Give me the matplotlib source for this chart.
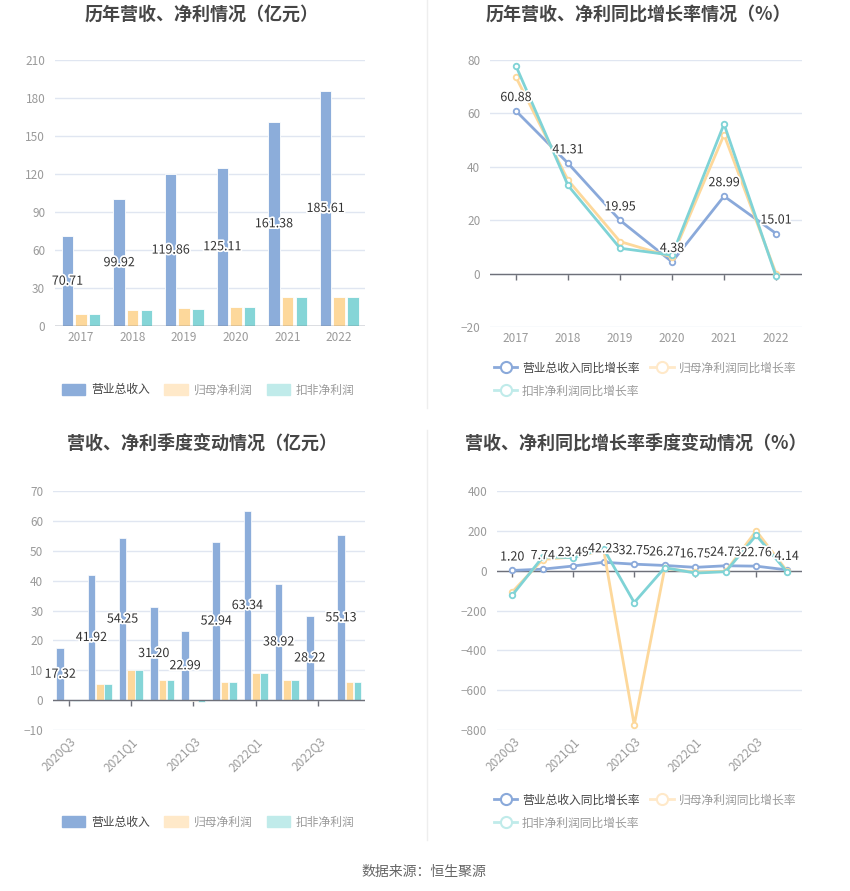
import numpy as np
import matplotlib
matplotlib.use('Agg')
import matplotlib.pyplot as plt
import matplotlib.patheffects as pe
from matplotlib.lines import Line2D
from matplotlib.patches import Patch

plt.rcParams['font.family'] = ['Noto Sans CJK SC', 'DejaVu Sans']

# Data
years = ['2017', '2018', '2019', '2020', '2021', '2022']
revenue = [70.71, 99.92, 119.86, 125.11, 161.38, 185.61]
net_profit = [9.2, 12.5, 14.1, 15.1, 23.0, 23.0]
deducted_profit = [9.4, 12.4, 13.8, 14.9, 23.0, 22.7]

revenue_yoy = [60.88, 41.31, 19.95, 4.38, 28.99, 15.01]
net_profit_yoy = [73.5, 35.0, 12.0, 6.2, 52.0, 0.0]
deducted_yoy = [77.7, 33.0, 9.5, 6.9, 56.0, -1.0]

quarters = ['2020Q3', '2020Q4', '2021Q1', '2021Q2', '2021Q3', '2021Q4',
            '2022Q1', '2022Q2', '2022Q3', '2022Q4']
q_revenue = [17.32, 41.92, 54.25, 31.20, 22.99, 52.94, 63.34, 38.92, 28.22, 55.13]
q_net_profit = [0.1, 5.4, 10.0, 6.8, -0.3, 6.2, 9.2, 6.6, 0.2, 6.1]
q_deducted = [-0.2, 5.4, 10.0, 6.8, -0.6, 6.2, 9.2, 6.6, 0.2, 6.0]

q_revenue_yoy = [1.20, 7.74, 23.49, 42.23, 32.75, 26.27, 16.75, 24.73, 22.76, 4.14]
q_net_profit_yoy = [-107, 56, 69, 102, -775, 12, -8, -3, 200, 0]
q_deducted_yoy = [-123, 69, 66, 109, -160, 15, -12, -5, 178, -5]

bar_names = ['营业总收入', '归母净利润', '扣非净利润']
line_names = ['营业总收入同比增长率', '归母净利润同比增长率', '扣非净利润同比增长率']

# Colours
blue = '#8cadda'
orange = '#fdd89b'
cyan = '#85d5d7'
orange_light = '#ffe9c9'
cyan_light = '#c0ebea'
grid_c = '#e0e6f1'
axis_c = '#6e7079'
tick_c = '#9a9a9a'

fig = plt.figure(figsize=(8.5, 8.91), dpi=100)

ax1 = fig.add_axes([0.0647, 0.6341, 0.3647, 0.2986])
ax2 = fig.add_axes([0.5765, 0.6330, 0.3671, 0.2997])
ax3 = fig.add_axes([0.0624, 0.1807, 0.3671, 0.2682])
ax4 = fig.add_axes([0.5847, 0.1807, 0.3588, 0.2682])


def style_axes(ax, ymin, ymax, step, ncat, tick_pos):
    ax.set_ylim(ymin, ymax)
    ax.set_xlim(-0.5, ncat - 0.5)
    ax.set_yticks(np.arange(ymin, ymax + step / 2, step))
    ax.grid(axis='y', color=grid_c, linewidth=1)
    ax.set_axisbelow(True)
    for s in ax.spines.values():
        s.set_visible(False)
    ax.tick_params(axis='y', length=0, pad=7, labelsize=8.5, labelcolor=tick_c)
    ax.tick_params(axis='x', length=0, labelsize=8.5, labelcolor=tick_c)
    # zero line with tick marks
    ax.axhline(0, color=axis_c, linewidth=1, zorder=1.5)
    z = (0 - ymin) / (ymax - ymin)
    sec = ax.secondary_xaxis(z)
    sec.set_alignment('bottom')
    for s in sec.spines.values():
        s.set_visible(False)
    sec.set_xticks(tick_pos)
    sec.tick_params(axis='x', length=4, width=1, color=axis_c,
                    labelbottom=False, labeltop=False, bottom=True, top=False)
    return sec


def label_text(ax, x, y, s, dy=0):
    ax.annotate(s, (x, y), xytext=(0, dy), textcoords='offset points',
                ha='center', va='bottom' if dy else 'center', fontsize=9,
                color='#333333', zorder=5,
                path_effects=[pe.withStroke(linewidth=2.5, foreground='white')])


# --- top left: annual bars
x = np.arange(len(years))
w = 0.22
ax1.bar(x - 0.26, revenue, w, color=blue, edgecolor='white', linewidth=0.6)
ax1.bar(x, net_profit, w, color=orange, edgecolor='white', linewidth=0.6)
ax1.bar(x + 0.27, deducted_profit, w, color=cyan, edgecolor='white', linewidth=0.6)
style_axes(ax1, 0, 210, 30, len(years), [])
ax1.set_xticks(x)
ax1.set_xticklabels(years)
for xi, v in zip(x, revenue):
    label_text(ax1, xi - 0.26, v / 2, f'{v:.2f}')

# --- top right: annual growth lines
style_axes(ax2, -20, 80, 20, len(years), x)
ax2.set_xticks(x)
ax2.set_xticklabels(years)
for vals, c in [(revenue_yoy, '#8aa9da'), (net_profit_yoy, orange), (deducted_yoy, '#7fd3d6')]:
    ax2.plot(x, vals, color=c, linewidth=2, marker='o', markersize=4,
             markerfacecolor='white', markeredgewidth=1.3, clip_on=False, zorder=3)
for xi, v in zip(x, revenue_yoy):
    label_text(ax2, xi, v, f'{v:.2f}', dy=5)

# --- bottom left: quarterly bars
xq = np.arange(len(quarters))
wq = 0.24
ax3.bar(xq - 0.27, q_revenue, wq, color=blue, edgecolor='white', linewidth=0.5)
ax3.bar(xq, q_net_profit, wq, color=orange, edgecolor='white', linewidth=0.5)
ax3.bar(xq + 0.26, q_deducted, wq, color=cyan, edgecolor='white', linewidth=0.5)
style_axes(ax3, -10, 70, 10, len(quarters), xq[::2])
ax3.set_xticks(xq[::2])
ax3.set_xticklabels(quarters[::2], rotation=45, ha='right', rotation_mode='anchor')
for xi, v in zip(xq, q_revenue):
    label_text(ax3, xi - 0.27, v / 2, f'{v:.2f}')

# --- bottom right: quarterly growth lines
style_axes(ax4, -800, 400, 200, len(quarters), xq[::2])
ax4.set_xticks(xq[::2])
ax4.set_xticklabels(quarters[::2], rotation=45, ha='right', rotation_mode='anchor')
for vals, c in [(q_revenue_yoy, '#8aa9da'), (q_net_profit_yoy, orange), (q_deducted_yoy, '#7fd3d6')]:
    ax4.plot(xq, vals, color=c, linewidth=2, marker='o', markersize=4,
             markerfacecolor='white', markeredgewidth=1.3, clip_on=False, zorder=3)
for xi, v in zip(xq, q_revenue_yoy):
    label_text(ax4, xi, v, f'{v:.2f}', dy=5)

# Titles
title_kw = dict(fontsize=13, fontweight='bold', color='#464646', ha='center', va='center')
fig.text(0.237, 0.984, '历年营收、净利情况（亿元）', **title_kw)
fig.text(0.751, 0.984, '历年营收、净利同比增长率情况（%）', **title_kw)
fig.text(0.238, 0.503, '营收、净利季度变动情况（亿元）', **title_kw)
fig.text(0.748, 0.503, '营收、净利同比增长率季度变动情况（%）', **title_kw)

# Legends
bar_handles = [Patch(color=blue), Patch(color=orange_light), Patch(color=cyan_light)]
line_handles = [
    Line2D([], [], color='#8aa9da', linewidth=2, marker='o', markersize=8,
           markerfacecolor='white', markeredgewidth=1.5),
    Line2D([], [], color=orange_light, linewidth=2, marker='o', markersize=8,
           markerfacecolor='white', markeredgewidth=1.5),
    Line2D([], [], color=cyan_light, linewidth=2, marker='o', markersize=8,
           markerfacecolor='white', markeredgewidth=1.5),
]


def bar_legend(ax, y):
    leg = ax.legend(bar_handles, bar_names, loc='center', ncol=3,
                    bbox_to_anchor=(0.245, y), bbox_transform=fig.transFigure,
                    frameon=False, fontsize=8.5, handlelength=2.0, handleheight=1.1,
                    handletextpad=0.5, columnspacing=1.2)
    for i, t in enumerate(leg.get_texts()):
        t.set_color('#444444' if i == 0 else '#9a9a9a')


def line_legend(ax, y):
    order = [0, 2, 1]
    leg = ax.legend([line_handles[i] for i in order], [line_names[i] for i in order],
                    loc='center left', ncol=2,
                    bbox_to_anchor=(0.574, y), bbox_transform=fig.transFigure,
                    frameon=False, fontsize=8.5, handlelength=2.0,
                    handletextpad=0.4, columnspacing=0.9, labelspacing=0.85,
                    borderpad=0)
    for t in leg.get_texts():
        t.set_color('#9a9a9a')
    leg.get_texts()[0].set_color('#444444')


bar_legend(ax1, 0.5623)
line_legend(ax2, 0.574)
bar_legend(ax3, 0.0774)
line_legend(ax4, 0.0892)

# separators
fig.add_artist(Line2D([0.5024, 0.5024], [0.542, 1.0], color='#eeeeee', linewidth=1))
fig.add_artist(Line2D([0.5024, 0.5024], [0.057, 0.517], color='#eeeeee', linewidth=1))

fig.text(0.499, 0.0213, '数据来源：恒生聚源', fontsize=10, color='#666666',
         ha='center', va='center')

fig.savefig('out.png', dpi=100)
